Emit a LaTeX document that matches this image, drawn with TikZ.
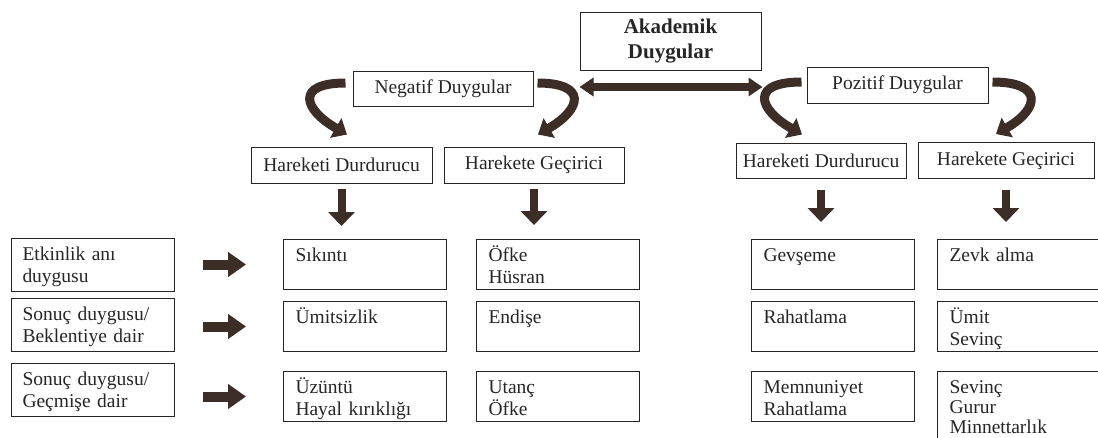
\documentclass[tikz,border=0pt]{standalone}
\usepackage{fontspec}
\setmainfont{Liberation Serif}
\usepackage{tikz}
\usetikzlibrary{shapes, arrows.meta, positioning}

\definecolor{boxline}{RGB}{40,36,34}
\definecolor{arrowbrown}{RGB}{60,45,38}

\begin{document}
\begin{tikzpicture}[
        x=1pt, y=-1pt,
        font=\fontsize{19.5}{21.5}\selectfont,
        text=black!85,
        block/.style={
            rectangle,
            draw=boxline,
            line width=1pt,
            minimum width=181pt,
            minimum height=36pt,
            inner sep=2pt
        },
        emo/.style={
            rectangle,
            draw=boxline,
            line width=1pt,
            text width=139pt,
            align=left,
            inner xsep=12pt,
            inner ysep=5pt,
            text height=17pt,
            text depth=23pt
        },
        phase/.style={
            emo,
            text width=141pt,
            inner xsep=11pt,
            text depth=26pt
        },
        line/.style={
            draw=arrowbrown,
            line width=8pt,
            -{Triangle[width=26pt, length=14pt]}
        },
        push/.style={
            draw=arrowbrown,
            line width=10pt,
            shorten <=28pt,
            shorten >=37pt,
            -{Triangle[width=24pt, length=18pt]}
        },
        turn/.style={
            draw=arrowbrown,
            line width=9pt,
            -{Triangle[width=22pt, length=13pt]}
        },
        dbl/.style={
            draw=arrowbrown,
            line width=8pt,
            {Triangle[width=18pt, length=14pt]}-{Triangle[width=18pt, length=14pt]}
        }
    ]
        \useasboundingbox (0,0) rectangle (1098,437);
        \clip (0,0) rectangle (1098,437);

        % Nodes
        \node [block, minimum height=58pt, align=center, font=\fontsize{21}{25}\selectfont\bfseries] (akad) at (670.5,41) {Akademik\\Duygular};
        \node [block, minimum width=180pt, minimum height=35pt] (neg) at (443,88.5) {Negatif Duygular};
        \node [block] (poz) at (897.5,85) {Pozitif Duygular};
        \node [block] (nhd) at (341.5,165) {Hareketi Durdurucu};
        \node [block, minimum width=180pt, right=11pt of nhd] (nhg) {Harekete Geçirici};
        \node [block, minimum width=170pt, minimum height=35pt] (phd) at (821,160.5) {Hareketi Durdurucu};
        \node [block, minimum width=176pt, right=11pt of phd] (phg) {Harekete Geçirici};

        \node [phase, anchor=north west] (l1) at (11,238) {Etkinlik anı\\duygusu};
        \node [phase, below=6pt of l1] (l2) {Sonuç duygusu/\\Beklentiye dair};
        \node [phase, below=11pt of l2] (l3) {Sonuç duygusu/\\Geçmişe dair};

        \node [emo, anchor=north west] (a1) at (283,239) {Sıkıntı};
        \node [emo, below=11pt of a1] (a2) {Ümitsizlik};
        \node [emo, below=19pt of a2] (a3) {Üzüntü\\Hayal kırıklığı};
        \node [emo, right=29pt of a1] (b1) {Öfke\\Hüsran};
        \node [emo, below=11pt of b1] (b2) {Endişe};
        \node [emo, below=19pt of b2] (b3) {Utanç\\Öfke};
        \node [emo, right=111pt of b1] (c1) {Gevşeme};
        \node [emo, below=11pt of c1] (c2) {Rahatlama};
        \node [emo, below=19pt of c2] (c3) {Memnuniyet\\Rahatlama};
        \node [emo, right=22pt of c1] (d1) {Zevk alma};
        \node [emo, below=11pt of d1] (d2) {Ümit\\Sevinç};
        \node [emo, below=19pt of d2, text depth=60pt, font=\fontsize{19.5}{20}\selectfont] (d3) {Sevinç\\Gurur\\Minnettarlık};

        % Paths
        \path [dbl, shorten <=46pt, shorten >=44pt] ([yshift=1.5pt]neg.east) -- ([yshift=1.5pt]neg.east -| poz.west);
        \path [turn] ([xshift=-7pt, yshift=5.5pt]neg.west) to [out=180, in=150, looseness=2.5] ([xshift=5.5pt, yshift=12pt]nhd.north);
        \path [turn] ([xshift=4pt, yshift=5.5pt]neg.east) to [out=0, in=30, looseness=2.5] ([xshift=4pt, yshift=12pt]nhg.north);
        \path [turn] ([xshift=-5pt, yshift=3pt]poz.west) to [out=180, in=150, looseness=2.5] ([xshift=-19pt, yshift=8pt]phd.north);
        \path [turn] ([xshift=4pt, yshift=3pt]poz.east) to [out=0, in=30, looseness=2.5] ([xshift=-10pt, yshift=8pt]phg.north);

        \path [line, shorten <=5pt, shorten >=13pt] (nhd) -- (nhd |- a1.north);
        \path [line, shorten <=5pt, shorten >=14pt] (nhg) -- (nhg |- b1.north);
        \path [line, shorten <=11pt, shorten >=17pt] (phd) -- (phd |- c1.north);
        \path [line, shorten <=11pt, shorten >=17pt] (phg) -- (phg |- d1.north);

        \path [push] (l1.east |- a1) -- (a1);
        \path [push] (l2.east |- a2) -- (a2);
        \path [push] (l3.east |- a3) -- (a3);

    \end{tikzpicture}
\end{document}
